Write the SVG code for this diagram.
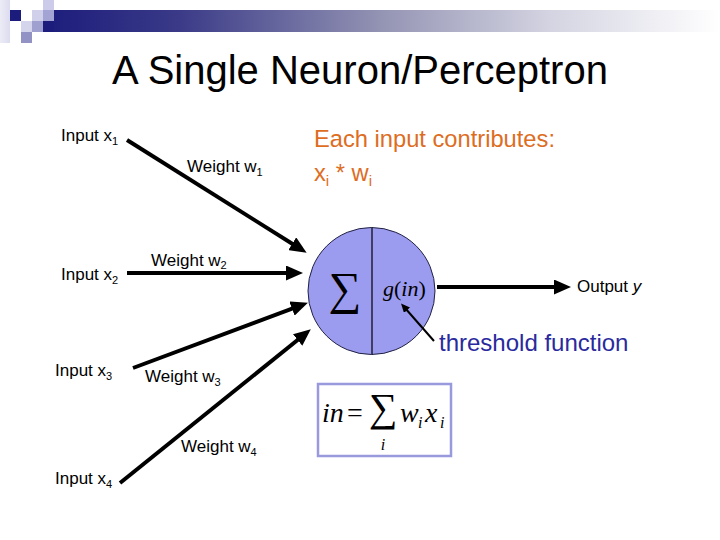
<svg xmlns="http://www.w3.org/2000/svg" width="720" height="540" viewBox="0 0 720 540">
  <defs>
    <linearGradient id="bar" x1="0" y1="0" x2="1" y2="0">
      <stop offset="0" stop-color="#1c1c7c"/>
      <stop offset="0.2" stop-color="#3a3a88"/>
      <stop offset="0.5" stop-color="#9494b4"/>
      <stop offset="0.75" stop-color="#d4d4e2"/>
      <stop offset="1" stop-color="#ffffff"/>
    </linearGradient>
    <linearGradient id="pale" x1="0" y1="0" x2="1" y2="0">
      <stop offset="0" stop-color="#ececf6"/>
      <stop offset="1" stop-color="#dcdcf0"/>
    </linearGradient>
    <marker id="ah" markerUnits="userSpaceOnUse" markerWidth="17" markerHeight="15" refX="8" refY="7.5" orient="auto">
      <path d="M0,0 L17,7.5 L0,15 z" fill="#000"/>
    </marker>
    <marker id="ahs" markerUnits="userSpaceOnUse" markerWidth="9" markerHeight="8" refX="3" refY="4" orient="auto">
      <path d="M0,0 L9,4 L0,8 z" fill="#000"/>
    </marker>
  </defs>
  <style>
    .lbl { font-family: "Liberation Sans", Arial, sans-serif; font-size: 17px; fill: #000; }
    .sub { font-size: 11px; }
    .orange { font-family: "Liberation Sans", Arial, sans-serif; font-size: 23.7px; fill: #dd6d1f; }
    .blue { font-family: "Liberation Sans", Arial, sans-serif; font-size: 24px; fill: #2a2a9e; }
    .math { font-family: "Liberation Serif", "Times New Roman", "DejaVu Serif", serif; fill: #000; }
    .it { font-style: italic; }
    .conn { stroke: #000; stroke-width: 4; fill: none; marker-end: url(#ah); }
  </style>

  <rect width="720" height="540" fill="#fff"/>

  <g id="decoration">
    <rect x="0" y="0" width="10" height="43" fill="url(#pale)"/>
    <rect x="10" y="10" width="11" height="11" fill="#1c1c7c"/>
    <rect x="32" y="10" width="11" height="11" fill="#d0d0ea"/>
    <rect x="43" y="0" width="11" height="10" fill="#ccccea"/>
    <rect x="44" y="10" width="676" height="22" fill="url(#bar)"/>
    <rect x="43" y="10" width="11" height="11" fill="#a4a4d4"/>
    <rect x="43" y="21" width="11" height="11" fill="#1c1c7c"/>
    <rect x="21" y="21" width="11" height="11" fill="#d4d4ec"/>
    <rect x="32" y="21" width="11" height="11" fill="#a0a0d0"/>
    <rect x="21" y="32" width="11" height="11" fill="#9292c4"/>
  </g>

  <g id="title">
    <text x="360" y="84" text-anchor="middle" font-family="Liberation Sans, Arial, sans-serif" font-size="40" fill="#000">A Single Neuron/Perceptron</text>
  </g>

  <g id="input1">
    <text class="lbl" x="61" y="141">Input x<tspan class="sub" dy="4">1</tspan></text>
  </g>
  <g id="input2">
    <text class="lbl" x="61" y="280">Input x<tspan class="sub" dy="4">2</tspan></text>
  </g>
  <g id="input3">
    <text class="lbl" x="55" y="376">Input x<tspan class="sub" dy="4">3</tspan></text>
  </g>
  <g id="input4">
    <text class="lbl" x="55" y="484">Input x<tspan class="sub" dy="4">4</tspan></text>
  </g>

  <g id="weights">
    <text class="lbl" x="187" y="172">Weight w<tspan class="sub" dy="4">1</tspan></text>
    <text class="lbl" x="151" y="266">Weight w<tspan class="sub" dy="3">2</tspan></text>
    <text class="lbl" x="145" y="382">Weight w<tspan class="sub" dy="4">3</tspan></text>
    <text class="lbl" x="181" y="452">Weight w<tspan class="sub" dy="4">4</tspan></text>
  </g>

  <g id="note">
    <text class="orange" x="314" y="147">Each input contributes:</text>
    <text class="orange" x="314" y="181">x<tspan font-size="15" dy="5">i</tspan><tspan dy="-5"> * w</tspan><tspan font-size="15" dy="5">i</tspan></text>
  </g>

  <g id="neuron">
    <circle cx="371.5" cy="291" r="63.5" fill="#9b9bef" stroke="#222244" stroke-width="1"/>
    <line x1="372" y1="227.5" x2="372" y2="354.5" stroke="#000" stroke-width="1.2"/>
    <text class="math" x="345" y="304" text-anchor="middle" font-size="46">∑</text>
    <text class="math" x="383" y="296" font-size="22"><tspan class="it">g</tspan>(<tspan class="it">in</tspan>)</text>
  </g>

  <g id="output">
    <text class="lbl" x="577" y="292">Output <tspan font-style="italic">y</tspan></text>
  </g>

  <g id="threshold">
    <text class="blue" x="439" y="351">threshold function</text>
  </g>

  <g id="formula">
    <rect x="318" y="384" width="133" height="72" fill="#fff" stroke="#9999dd" stroke-width="2.5"/>
    <text class="math it" x="322" y="422" font-size="28">in</text>
    <text class="math" x="347" y="422" font-size="28">=</text>
    <text class="math" x="383" y="421" text-anchor="middle" font-size="40">∑</text>
    <text class="math it" x="400" y="422" font-size="28">w</text>
    <text class="math it" x="418" y="428" font-size="16">i</text>
    <text class="math it" x="425" y="422" font-size="28">x</text>
    <text class="math it" x="440" y="428" font-size="16">i</text>
    <text class="math it" x="383" y="450" text-anchor="middle" font-size="16">i</text>
  </g>

  <g id="connectors">
    <line class="conn" x1="127" y1="140" x2="299" y2="248"/>
    <line class="conn" x1="127" y1="273" x2="294" y2="273"/>
    <line class="conn" x1="133" y1="368" x2="299.5" y2="305.8"/>
    <line class="conn" x1="120" y1="483" x2="303.8" y2="335"/>
    <line class="conn" x1="437" y1="287" x2="562" y2="287"/>
    <line x1="434" y1="341" x2="405" y2="308" stroke="#000" stroke-width="2" marker-end="url(#ahs)"/>
  </g>
</svg>
